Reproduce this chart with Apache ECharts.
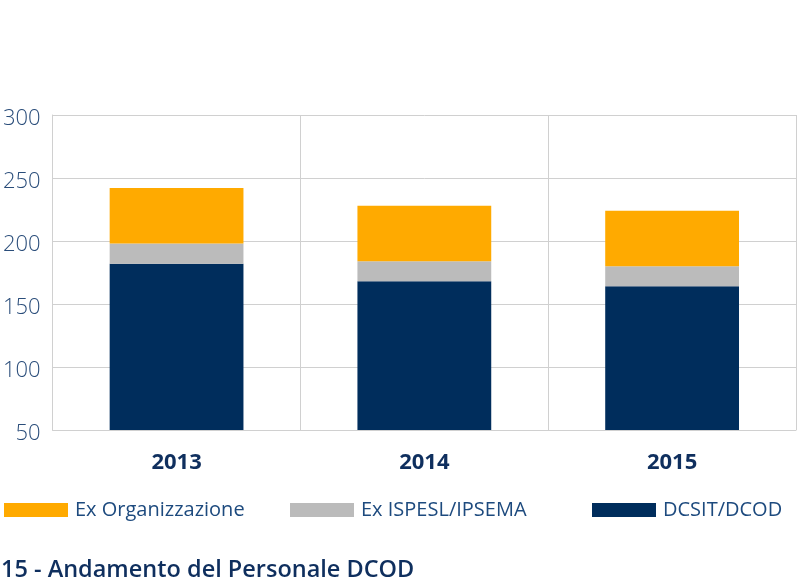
<!DOCTYPE html>
<html>
<head>
<meta charset="utf-8">
<script src="https://cdn.jsdelivr.net/npm/echarts@6/dist/echarts.min.js"></script>
<style>
    html, body { margin: 0; padding: 0; background: #fff; }
    #chart { width: 800px; height: 580px; }
</style>
</head>
<body>
<div id="chart"></div>
<script>
// dati
var years = ['2013', '2014', '2015'];
var dcsit = [182, 168, 164];
var ispesl = [16, 16, 16];
var exOrg = [44, 44, 44];
var yTicks = [50, 100, 150, 200, 250, 300];

var navy = '#002d5c';
var gray = '#bbbbbb';
var orange = '#ffaa00';
var font = '"Open Sans", "Noto Sans", sans-serif';

var myChart = echarts.init(document.getElementById('chart'));

function legendBox(name, left) {
    return {
        data: [name],
        left: left,
        top: 500,
        padding: 0,
        itemWidth: 64,
        itemHeight: 14,
        icon: 'rect',
        selectedMode: false,
        textStyle: {
            fontFamily: font,
            fontSize: 20,
            color: '#1d4a7e',
            padding: [0, 0, 0, 2]
        }
    };
}

myChart.setOption({
    animation: false,
    title: {
        text: '15 - Andamento del Personale DCOD',
        left: 0,
        top: 558,
        padding: [0, 1],
        textStyle: {
            fontFamily: font,
            fontSize: 23.5,
            fontWeight: 600,
            color: '#0f2f5e'
        }
    },
    legend: [
        legendBox('Ex Organizzazione', 4),
        legendBox('Ex ISPESL/IPSEMA', 290),
        legendBox('DCSIT/DCOD', 592)
    ],
    grid: {
        left: 50,
        right: 4,
        top: 115,
        bottom: 150
    },
    xAxis: {
        type: 'category',
        data: years,
        axisTick: { show: false },
        axisLine: { lineStyle: { color: '#d0d0d0', width: 1 } },
        splitLine: { show: true, lineStyle: { color: '#d0d0d0' } },
        axisLabel: {
            margin: 22,
            fontFamily: font,
            fontSize: 22,
            fontWeight: 'bold',
            color: '#0f2f5e'
        }
    },
    yAxis: {
        type: 'value',
        min: yTicks[0],
        max: yTicks[yTicks.length - 1],
        interval: 50,
        axisLine: { show: true, lineStyle: { color: '#d0d0d0' } },
        axisTick: { show: false },
        splitLine: { lineStyle: { color: '#d0d0d0' } },
        axisLabel: {
            margin: 12,
            formatter: '{v|{value}}',
            rich: {
                v: {
                    fontFamily: font,
                    fontSize: 22,
                    fontWeight: 300,
                    color: '#2a4d7a',
                    padding: [7, 0, 0, 0]
                }
            }
        }
    },
    series: [
        {
            name: 'DCSIT/DCOD',
            type: 'bar',
            stack: 'tot',
            barWidth: '54%',
            itemStyle: { color: navy },
            data: dcsit
        },
        {
            name: 'Ex ISPESL/IPSEMA',
            type: 'bar',
            stack: 'tot',
            itemStyle: { color: gray },
            data: ispesl
        },
        {
            name: 'Ex Organizzazione',
            type: 'bar',
            stack: 'tot',
            itemStyle: { color: orange },
            data: exOrg
        }
    ]
});
</script>
</body>
</html>
